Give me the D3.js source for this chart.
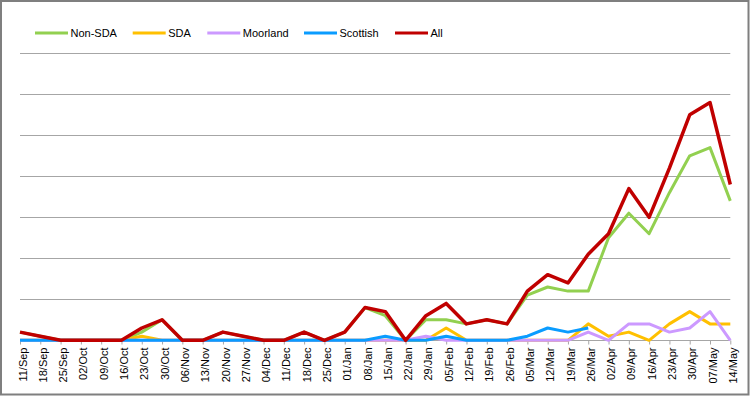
<!DOCTYPE html>
<html>
<head>
<meta charset="utf-8">
<script src="https://cdn.jsdelivr.net/npm/d3@7"></script>
<style>
  html, body { margin: 0; padding: 0; background: #fff; }
  svg { display: block; font-family: "Liberation Sans", Arial, sans-serif; }
</style>
</head>
<body>
<svg id="chart" width="750" height="396"></svg>
<script>
const categories = ["11/Sep","18/Sep","25/Sep","02/Oct","09/Oct","16/Oct","23/Oct","30/Oct","06/Nov","13/Nov","20/Nov","27/Nov","04/Dec","11/Dec","18/Dec","25/Dec","01/Jan","08/Jan","15/Jan","22/Jan","29/Jan","05/Feb","12/Feb","19/Feb","26/Feb","05/Mar","12/Mar","19/Mar","26/Mar","02/Apr","09/Apr","16/Apr","23/Apr","30/Apr","07/May","14/May"];

const nonSDA   = [2,1,0,0,0,0,2,5,0,0,2,1,0,0,2,0,2,8,6,0,5,5,4,5,4,11,13,12,12,25,31,26,36,45,47,34];
const sda      = [0,0,0,0,0,0,1,0,0,0,0,0,0,0,0,0,0,0,0,0,0,3,0,0,0,0,0,0,4,1,2,0,4,7,4,4];
const moorland = [0,0,0,0,0,0,0,0,0,0,0,0,0,0,0,0,0,0,0,0,1,0,0,0,0,0,0,0,2,0,4,4,2,3,7,0];
const scottish = [0,0,0,0,0,0,0,0,0,0,0,0,0,0,0,0,0,0,1,0,0,1,0,0,0,1,3,2,3,null,null,null,null,null,null,null];
const allSeries= [2,1,0,0,0,0,3,5,0,0,2,1,0,0,2,0,2,8,7,0,6,9,4,5,4,12,16,14,21,26,37,30,42,55,58,38];

const gridValues = [10,20,30,40,50,60,70];

const series = [
  { name: "Non-SDA",  values: nonSDA,    color: "#92D050", width: 3 },
  { name: "SDA",      values: sda,       color: "#FFC000", width: 3 },
  { name: "Moorland", values: moorland,  color: "#CC99FF", width: 3 },
  { name: "Scottish", values: scottish,  color: "#0A9CFF", width: 3 },
  { name: "All",      values: allSeries, color: "#C00000", width: 3.5 }
];

const svg = d3.select("#chart");
const W = 750, H = 396;

// outer frame
svg.append("rect")
  .attr("x", 1).attr("y", 1)
  .attr("width", W - 2.5).attr("height", H - 2.5)
  .attr("fill", "#fff")
  .attr("stroke", "#7f7f7f")
  .attr("stroke-width", 2);

const x = d3.scalePoint().domain(categories).range([20, 730.3]);
const y = d3.scaleLinear().domain([0, 70]).range([340.3, 53.3]);

// gridlines
svg.append("g").selectAll("line")
  .data(gridValues)
  .join("line")
  .attr("x1", 20).attr("x2", 730.3)
  .attr("y1", d => Math.round(y(d)) + 0.5)
  .attr("y2", d => Math.round(y(d)) + 0.5)
  .attr("stroke", "#a6a6a6")
  .attr("stroke-width", 1);

// x axis
const xAxis = d3.axisBottom(x).tickSize(4).tickPadding(3);
const gx = svg.append("g")
  .attr("transform", `translate(0,${Math.round(y(0)) + 0.5})`)
  .call(xAxis);
gx.select(".domain").attr("stroke", "#a6a6a6").attr("d", `M20,0H730.3`);
gx.selectAll(".tick line").attr("stroke", "#a6a6a6");
gx.selectAll(".tick text")
  .attr("fill", "#000")
  .attr("font-size", "11px")
  .attr("font-family", "Liberation Sans, Arial, sans-serif")
  .attr("transform", "rotate(-90)")
  .attr("text-anchor", "end")
  .attr("x", -7)
  .attr("y", 0)
  .attr("dy", "0.55em");

// lines
const line = d3.line()
  .defined(d => d != null)
  .x((d, i) => x(categories[i]))
  .y(d => y(d));

const lg = svg.append("g");
series.forEach(s => {
  lg.append("path")
    .datum(s.values)
    .attr("fill", "none")
    .attr("stroke", s.color)
    .attr("stroke-width", s.width)
    .attr("stroke-linejoin", "round")
    .attr("d", line);
});

// legend
const legendX = [35, 132.7, 207.3, 304, 395];
const leg = svg.append("g");
series.forEach((s, i) => {
  const g = leg.append("g").attr("transform", `translate(${legendX[i]},33)`);
  g.append("line")
    .attr("x1", 0).attr("x2", 33)
    .attr("y1", 0).attr("y2", 0)
    .attr("stroke", s.color)
    .attr("stroke-width", 3);
  g.append("text")
    .attr("x", 35.5)
    .attr("y", 0)
    .attr("dy", "0.35em")
    .attr("font-size", "11px")
    .attr("fill", "#000")
    .text(s.name);
});
</script>
</body>
</html>
